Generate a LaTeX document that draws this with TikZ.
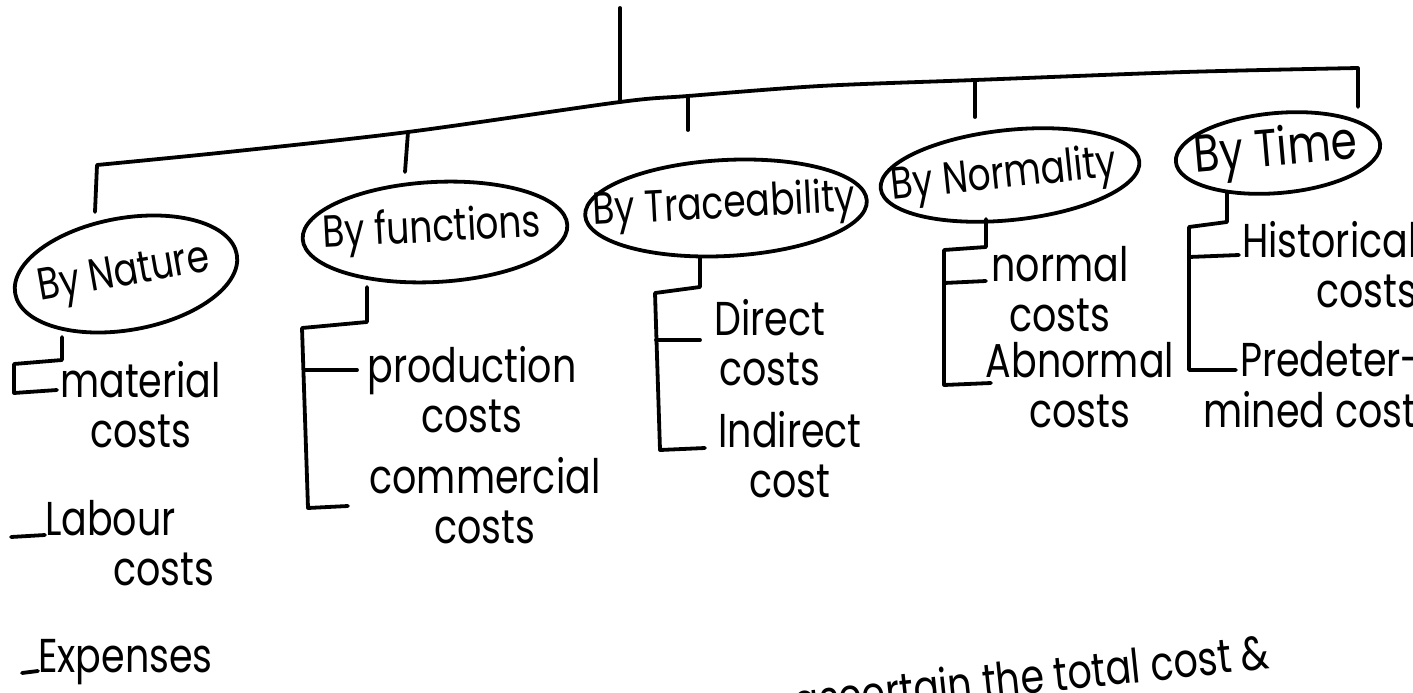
\documentclass[tikz,border=0pt]{standalone}
\usepackage{fontspec}
\setmainfont{Poppins}
\usetikzlibrary{shapes.geometric,calc}
\newcommand\hand[2][c]{\scalebox{1}[1.25]{\begin{tabular}{@{}#1@{}}#2\end{tabular}}}
\tikzset{
  ink/.style={line width=3.8pt, line cap=round, line join=round},
  oval/.style={ellipse, draw, line width=3.8pt, inner sep=0pt, outer sep=0pt},
  head/.style={font=\fontsize{36}{40}\selectfont, inner sep=0pt},
  item/.style={font=\fontsize{38}{40}\selectfont, inner sep=0pt},
}
\begin{document}
\begin{tikzpicture}[x=1pt,y=-1pt]
\useasboundingbox[fill=white] (0,0) rectangle (1413,693);

% category ovals
\node[oval, minimum width=225, minimum height=112, rotate=10] (nat) at (126,274) {};
\node[head, rotate=10] (natT) at (124,276) {\hand{By Nature}};
\node[oval, minimum width=265, minimum height=100, rotate=3] (fun) at (435,232) {};
\node[head, rotate=3] (funT) at (432,232) {\hand{By functions}};
\node[oval, minimum width=282, minimum height=96, rotate=3] (tra) at (726,208) {};
\node[head, rotate=3] (traT) at (724,208) {\hand{By Traceability}};
\node[oval, minimum width=260, minimum height=90, rotate=6] (nor) at (1010,175) {};
\node[head, rotate=6] (norT) at (1004,178) {\hand{By Normality}};
\node[oval, minimum width=205, minimum height=80, rotate=5] (tim) at (1278,153) {};
\node[head, font=\fontsize{42}{44}\selectfont, rotate=5] (timT) at (1276,154) {\hand{By Time}};

% main bar
\coordinate (root) at (620,8);
\coordinate (L0) at (97,165);
\coordinate (a1) at (228,152);
\coordinate (cF) at (408,132);
\coordinate (cR) at (620,102);
\coordinate (cT) at (688,96);
\coordinate (b1) at (820,86);
\coordinate (cN) at (975,80);
\coordinate (b2) at (1185,72);
\coordinate (R0) at (1358,68);
\coordinate (natTop) at (95,212);
\coordinate (Rend) at (1358,107);
\coordinate (funTop) at (405,172);
\coordinate (traTop) at (688,130);
\coordinate (norTop) at (975,117);

\draw[ink] (natTop) -- (L0) -- plot[smooth, tension=0.5] coordinates {(L0) (a1) (cF) (cR) (cT) (b1) (cN) (b2) (R0)} -- (Rend);
\draw[ink] (root) -- (cR);
\draw[ink] (cF) -- (funTop);
\draw[ink] (cT) -- (traTop);
\draw[ink] (cN) -- (norTop);

% By Nature bracket
\coordinate (n1) at (62,337);
\coordinate (n2) at (62,360);
\coordinate (n3) at (14,364);
\coordinate (n4) at (14,393);
\coordinate (n5) at (57,390);
\draw[ink] (n1) -- (n2) -- (n3) -- (n4) -- (n5);
\coordinate (lab1) at (11,537);
\coordinate (lab2) at (45,535);
\draw[ink] (lab1) -- (lab2);
\coordinate (exp1) at (22,673);
\coordinate (exp2) at (38,671);
\draw[ink] (exp1) -- (exp2);

% By functions bracket
\coordinate (f1) at (367,287);
\coordinate (f2) at (367,322);
\coordinate (f3) at (302,328);
\coordinate (f4) at (308,508);
\coordinate (f5) at (348,506);
\coordinate (f6) at (304,370);
\coordinate (f7) at (357,370);
\draw[ink] (f1) -- (f2) -- (f3) -- (f4) -- (f5);
\draw[ink] (f6) -- (f7);

% By Traceability bracket
\coordinate (t1) at (700,257);
\coordinate (t2) at (700,287);
\coordinate (t3) at (655,293);
\coordinate (t4) at (660,450);
\coordinate (t5) at (705,448);
\coordinate (t6) at (656,340);
\coordinate (t7) at (700,340);
\draw[ink] (t1) -- (t2) -- (t3) -- (t4) -- (t5);
\draw[ink] (t6) -- (t7);

% By Normality bracket
\coordinate (m1) at (986,219);
\coordinate (m2) at (986,247);
\coordinate (m3) at (944,250);
\coordinate (m4) at (944,385);
\coordinate (m5) at (991,383);
\coordinate (m6) at (944,283);
\coordinate (m7) at (986,281);
\draw[ink] (m1) -- (m2) -- (m3) -- (m4) -- (m5);
\draw[ink] (m6) -- (m7);

% By Time bracket
\coordinate (h1) at (1227,192);
\coordinate (h2) at (1227,222);
\coordinate (h3) at (1189,227);
\coordinate (h4) at (1189,370);
\coordinate (h5) at (1236,370);
\coordinate (h6) at (1189,257);
\coordinate (h7) at (1239,255);
\draw[ink] (h1) -- (h2) -- (h3) -- (h4) -- (h5);
\draw[ink] (h6) -- (h7);

% items
\node[item, anchor=west] (iMat) at (60,412) {\hand{material\\costs}};
\node[item, anchor=west] (iLab) at (45,550) {\hand[l]{Labour\\\hspace*{68pt}costs}};
\node[item, anchor=west] (iExp) at (38,662) {\hand{Expenses}};
\node[item] (iPro) at (472,397) {\hand{production\\costs}};
\node[item] (iCom) at (485,508) {\hand{commercial\\costs}};
\node[item] (iDir) at (770,350) {\hand{Direct\\costs}};
\node[item] (iInd) at (790,462) {\hand{Indirect\\cost}};
\node[item] (iNor) at (1060,296) {\hand{normal\\costs}};
\node[item] (iAbn) at (1080,392) {\hand{Abnormal\\costs}};
\node[item, anchor=west] (iHis) at (1242,272) {\hand[r]{Historical\\costs}};
\node[item, anchor=west] (iPre) at (1203,392) {\hand[l]{\hspace*{37pt}Predeter-\\mined cost}};

% bottom line of running text
\node[item, anchor=east, rotate=6] (tail) at (1270,658) {\hand{ascertain the total cost \&}};
\end{tikzpicture}
\end{document}
